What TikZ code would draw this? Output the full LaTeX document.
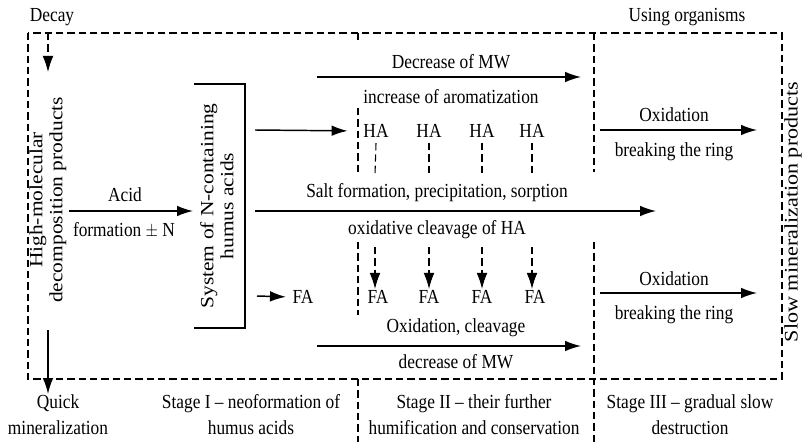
\documentclass[tikz,border=0pt]{standalone}
\usepackage{fontspec}
\setmainfont{Liberation Serif}
\usetikzlibrary{arrows.meta,positioning}

\begin{document}
\begin{tikzpicture}[x=0.75pt,y=0.75pt,yscale=-1,xscale=1,
		txt/.style={inner sep=0.75pt, font=\rmfamily\fontsize{13}{17}\selectfont, align=center, yscale=1.15},
		vtxt/.style={inner sep=0.75pt, font=\rmfamily\fontsize{14}{15}\selectfont, align=center, rotate=90, xscale=1.15},
		flow/.style={line width=1.1pt, -{Latex[length=12pt,width=8pt]}},
		brd/.style={line width=0.8pt, dash pattern={on 5.5pt off 3pt}},
		brdflow/.style={brd, -{Latex[length=12pt,width=8pt]}}]
		\useasboundingbox (0,0) rectangle (805,442);
		
		%Dashed frame and stage borders
		\draw [brd] (28,33) rectangle (782,379) ;
		\draw [brd] (358,33) -- (358,42) ;
		\draw [brd] (358,108) -- (358,172) ;
		\draw [brd] (358,242) -- (358,315) ;
		\draw [brd] (358,379) -- (358,442) ;
		\draw [brd] (594,33) -- (594,172) ;
		\draw [brd] (594,242) -- (594,442) ;
		
		% Text Node
		\node [txt] (decay) at (52,17) {Decay};
		% Text Node
		\node [txt] (using) at (687,17) {Using organisms};
		% Text Node
		\node [vtxt] (hmp) at (48,200) {High-molecular\\decomposition products};
		% Text Node
		\node [vtxt] (sys) at (217,206) {System of N-containing\\humus acids};
		% Text Node
		\node [vtxt, font=\rmfamily\fontsize{14.4}{15}\selectfont] (slow) at (793,212) {Slow mineralization products};
		
		%Decay and quick mineralization
		\coordinate (decayin) at (48,33);
		\coordinate (decayout) at (48,72);
		\draw [brdflow] (decayin) -- (decayout) ;
		\node [txt] (quick) at (58,415) {Quick\\mineralization};
		\coordinate (quickin) at (48,330);
		\coordinate (quickout) at (48,394);
		\draw [flow] (quickin) -- (quickout) ;
		
		%Acid formation
		\coordinate (acidin) at (69,211);
		\coordinate (acidout) at (193,211);
		\draw [flow] (acidin) -- (acidout) ;
		\node [txt] (acid) at (125,195) {Acid};
		\node [txt] (acidn) at (124,230) {formation $\pm$ N};
		
		%Bracket of the humus acid system
		\draw [line width=1.1pt] (194,84) -- (245,84) -- (245,328) -- (194,328) ;
		
		%HA row
		\node [txt] (ha1) at (376,131) {HA};
		\node [txt] (ha2) at (429,131) {HA};
		\node [txt] (ha3) at (482,131) {HA};
		\node [txt] (ha4) at (532,131) {HA};
		\coordinate (hain) at (255,130);
		\draw [flow, shorten >=11pt] (hain) -- (ha1.west) ;
		\draw [brd] (ha1.south) ++(0,4) -- (375,175) ;
		\draw [brd] (ha2.south) ++(0,4) -- (429,175) ;
		\draw [brd] (ha3.south) ++(0,4) -- (482,175) ;
		\draw [brd] (ha4.south) ++(0,4) -- (532,175) ;
		
		%FA row
		\node [txt] (fa0) at (303,297) {FA};
		\node [txt] (fa1) at (378,297) {FA};
		\node [txt] (fa2) at (429,297) {FA};
		\node [txt] (fa3) at (482,297) {FA};
		\node [txt] (fa4) at (535,297) {FA};
		\coordinate (fain) at (257,296);
		\draw [flow, shorten >=4pt] (fain) -- (fa0.west) ;
		\draw [brdflow] (375,247) -- (fa1.north -| 375,0) ;
		\draw [brdflow] (429,247) -- (fa2.north) ;
		\draw [brdflow] (482,247) -- (fa3.north) ;
		\draw [brdflow] (532,247) -- (fa4.north -| 532,0) ;
		
		%Decrease of MW
		\coordinate (mwin) at (317,77);
		\coordinate (mwout) at (581,77);
		\draw [flow] (mwin) -- (mwout) ;
		\node [txt] (mw) at (451,62) {Decrease of MW};
		\node [txt] (arom) at (451,97) {increase of aromatization};
		
		%Salt formation
		\coordinate (saltin) at (255,211);
		\coordinate (saltout) at (656,211);
		\draw [flow] (saltin) -- (saltout) ;
		\node [txt] (salt) at (437,193) {Salt formation, precipitation, sorption};
		\node [txt] (cleav) at (437,230) {oxidative cleavage of HA};
		
		%Oxidation, cleavage
		\coordinate (oxin) at (317,346);
		\coordinate (oxout) at (581,346);
		\draw [flow] (oxin) -- (oxout) ;
		\node [txt] (ox) at (456,328) {Oxidation, cleavage};
		\node [txt] (mwdec) at (456,362) {decrease of MW};
		
		%Stage III oxidation
		\coordinate (ring1in) at (600,130);
		\coordinate (ring1out) at (757,130);
		\draw [flow] (ring1in) -- (ring1out) ;
		\node [txt] (ox1) at (674,115) {Oxidation};
		\node [txt] (ring1) at (674,152) {breaking the ring};
		\coordinate (ring2in) at (600,293);
		\coordinate (ring2out) at (757,293);
		\draw [flow] (ring2in) -- (ring2out) ;
		\node [txt] (ox2) at (674,279) {Oxidation};
		\node [txt] (ring2) at (674,315) {breaking the ring};
		
		% Stage labels
		\node [txt] (stage1) at (251,415) {Stage I -- neoformation of\\humus acids};
		\node [txt] (stage2) at (474,415) {Stage II -- their further\\humification and conservation};
		\node [txt] (stage3) at (690,415) {Stage III -- gradual slow\\destruction};
		
\end{tikzpicture}
\end{document}
